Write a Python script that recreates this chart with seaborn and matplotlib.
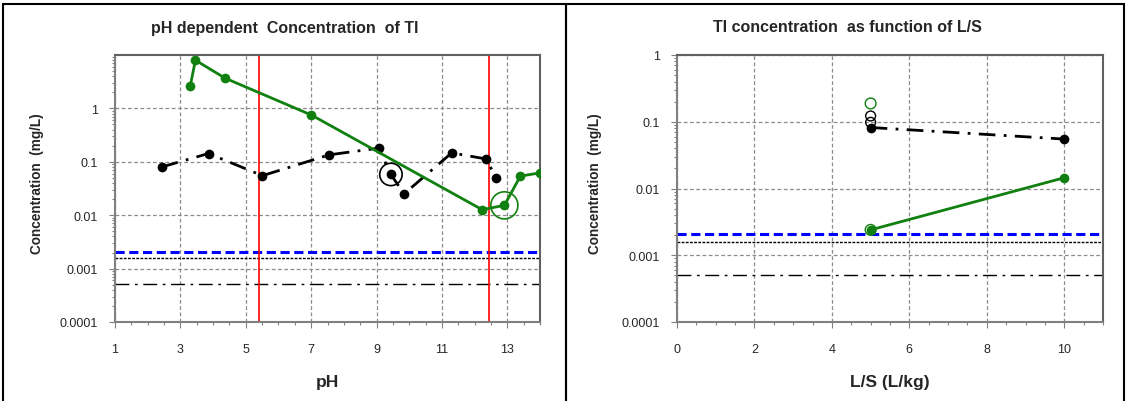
import numpy as np
import pandas as pd
import matplotlib
matplotlib.use("Agg")
import matplotlib.pyplot as plt
import matplotlib.ticker as mticker
from matplotlib.patches import Rectangle
import seaborn as sns

# pH dependent data (left panel)
ph_green = [3.30, 3.46, 4.36, 7.01, 12.23, 12.91, 13.40, 14.0]
conc_green = [2.6, 8.0, 3.7, 0.75, 0.0127, 0.0153, 0.054, 0.062]
ph_black = [2.43, 3.86, 5.51, 7.55, 9.06, 9.44, 9.84, 11.30, 12.35, 12.66]
conc_black = [0.080, 0.143, 0.055, 0.135, 0.18, 0.058, 0.025, 0.147, 0.113, 0.050]
ph_black_circled = [9.44]
conc_black_circled = [0.058]
ph_green_circled = [12.91]
conc_green_circled = [0.0153]
ph_limits = [5.40, 12.45]

# L/S data (right panel)
ls_green = [5, 10]
conc_ls_green = [0.0024, 0.0145]
ls_black = [5, 10]
conc_ls_black = [0.082, 0.055]
ls_open_black = [5, 5]
conc_open_black = [0.122, 0.098]
ls_open_green = [5, 5]
conc_open_green = [0.188, 0.0024]

# reference levels
ref_blue = 0.00205
ref_dotted = 0.0016
ref_dashdot = 0.00051

sns.set_theme(style="white")
plt.rcParams["font.family"] = ["Liberation Sans", "DejaVu Sans"]

fig = plt.figure(figsize=(11.27, 4.02), dpi=100)
W, H = 1127, 402

ax1 = fig.add_axes([115 / W, 1 - 323 / H, 425 / W, 267 / H])
ax2 = fig.add_axes([677 / W, 1 - 323 / H, 426 / W, 267 / H])

# panel frames
fig.patches.append(Rectangle((3 / W, -0.05), 563 / W, 1.05 - 5 / H, transform=fig.transFigure,
                             fill=False, edgecolor="black", linewidth=1.5))
fig.patches.append(Rectangle((566 / W, -0.05), 558 / W, 1.05 - 5 / H, transform=fig.transFigure,
                             fill=False, edgecolor="black", linewidth=1.5))

dashdot = (0, (6, 3, 1, 3))
green = "#108010"

for ax in (ax1, ax2):
    ax.axhline(ref_blue, color="#0000ff", linestyle=(0, (3, 1.5)), linewidth=2.2, zorder=2)
    ax.axhline(ref_dotted, color="black", linestyle=(0, (2, 1)), linewidth=1, zorder=2)
    ax.axhline(ref_dashdot, color="black", linestyle=(0, (10, 4, 2, 4)), linewidth=1, zorder=2)

# left panel
for x in ph_limits:
    ax1.axvline(x, color="red", linewidth=1.2, zorder=2)

sns.lineplot(x=ph_black, y=conc_black, ax=ax1, sort=False, color="black", linewidth=2,
             linestyle=dashdot, marker="o", markersize=7, markeredgewidth=0, zorder=3)
sns.lineplot(x=ph_green, y=conc_green, ax=ax1, sort=False, color=green, linewidth=2,
             marker="o", markersize=7, markeredgewidth=0, zorder=4)
sns.scatterplot(x=ph_black_circled, y=conc_black_circled, ax=ax1, s=260, facecolor="none",
                edgecolor="black", linewidth=1.2, zorder=5)
sns.scatterplot(x=ph_green_circled, y=conc_green_circled, ax=ax1, s=380, facecolor="none",
                edgecolor=green, linewidth=1.2, zorder=5)

ax1.set_yscale("log")
ax1.set_ylim(1e-4, 10)
ax1.set_xlim(1, 14)
ax1.set_xticks([1, 3, 5, 7, 9, 11, 13])
ax1.set_yticks([1e-4, 1e-3, 1e-2, 1e-1, 1])
ax1.set_yticklabels(["0.0001", "0.001", "0.01", "0.1", "1"])
ax1.set_xlabel("pH", fontsize=12.5, fontweight="bold", labelpad=14)

# right panel
sns.lineplot(x=ls_black, y=conc_ls_black, ax=ax2, sort=False, color="black", linewidth=2,
             linestyle=dashdot, marker="o", markersize=7, markeredgewidth=0, zorder=3)
sns.lineplot(x=ls_green, y=conc_ls_green, ax=ax2, sort=False, color=green, linewidth=2,
             marker="o", markersize=7, markeredgewidth=0, zorder=4)
sns.scatterplot(x=ls_open_black, y=conc_open_black, ax=ax2, s=50, facecolor="none",
                edgecolor="black", linewidth=1, zorder=5)
sns.scatterplot(x=ls_open_green, y=conc_open_green, ax=ax2, s=60, facecolor="none",
                edgecolor=green, linewidth=1, zorder=5)

ax2.set_yscale("log")
ax2.set_ylim(1e-4, 1)
ax2.set_xlim(0, 11)
ax2.set_xticks([0, 2, 4, 6, 8, 10])
ax2.set_yticks([1e-4, 1e-3, 1e-2, 1e-1, 1])
ax2.set_yticklabels(["0.0001", "0.001", "0.01", "0.1", "1"])
ax2.set_xlabel("L/S (L/kg)", fontsize=12.5, fontweight="bold", labelpad=14)

# titles centred on each framed panel
fig.text(284.5 / W, 1 - 28 / H, "pH dependent  Concentration  of Tl", ha="center", va="center",
         fontsize=11.5, fontweight="bold")
fig.text(847 / W, 1 - 28 / H, "Tl concentration  as function of L/S", ha="center", va="center",
         fontsize=11.5, fontweight="bold")

for ax, ylab_x in ((ax1, -0.168), (ax2, -0.175)):
    ax.set_ylabel("Concentration  (mg/L)", fontsize=9.8, fontweight="bold")
    ax.yaxis.set_label_coords(ylab_x, 0.52)
    ax.xaxis.set_minor_locator(mticker.MultipleLocator(0.5))
    ax.yaxis.set_minor_locator(mticker.LogLocator(base=10, subs=np.arange(2, 10)))
    ax.yaxis.set_minor_formatter(mticker.NullFormatter())
    ax.grid(True, which="major", color="#8c8c8c", linestyle=(0, (3, 2)), linewidth=0.9)
    ax.tick_params(which="major", direction="out", length=4, width=0.8, color="#808080",
                   labelsize=9, pad=8, left=True, bottom=True)
    ax.tick_params(axis="x", which="major", pad=11)
    ax.tick_params(which="minor", direction="out", length=2.5, width=0.8, color="#808080",
                   left=True, bottom=True)
    for side in ("left", "bottom"):
        ax.spines[side].set_color("#808080")
        ax.spines[side].set_linewidth(1.5)
    for side in ("top", "right"):
        ax.spines[side].set_color("#606060")
        ax.spines[side].set_linewidth(1.5)
    if ax.get_legend() is not None:
        ax.get_legend().remove()

fig.savefig("out.png", dpi=100)
